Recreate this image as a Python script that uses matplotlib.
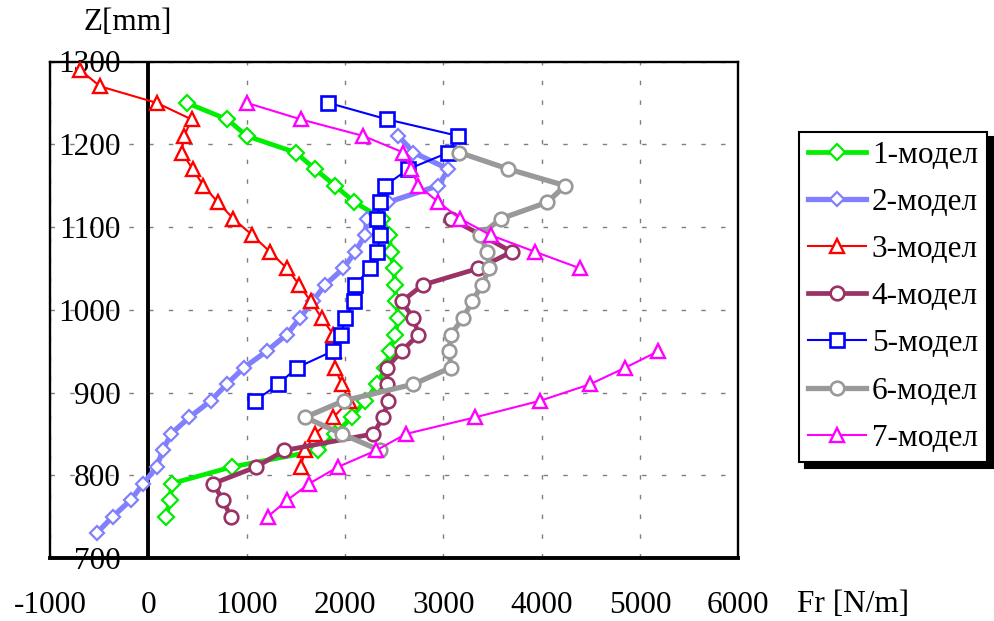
import numpy as np
import matplotlib
matplotlib.use("Agg")
import matplotlib.pyplot as plt

# ---------------- data ----------------
z1 = list(range(1250, 749, -20))
fr1 = [390, 804, 1001, 1499, 1696, 1899, 2096, 2380, 2452, 2466, 2494, 2510, 2520,
       2543, 2510, 2459, 2410, 2330, 2204, 2069, 1900, 1729, 848, 238, 221, 180]

z2 = list(range(1210, 729, -20))
fr2 = [2544, 2696, 3052, 2950, 2440, 2222, 2204, 2103, 1984, 1798, 1670, 1543, 1408,
       1204, 973, 797, 635, 417, 231, 146, 85, -51, -179, -362, -525]

z3 = list(range(1290, 809, -20))
fr3 = [-695, -491, 85, 441, 363, 340, 451, 560, 706, 865, 1058, 1238, 1408, 1536,
       1652, 1764, 1880, 1890, 1899, 1967, 2040, 1883, 1696, 1594, 1550]

z4 = list(range(1110, 749, -20))
fr4 = [3076, 3390, 3697, 3357, 2791, 2577, 2696, 2747, 2577, 2425, 2432, 2442, 2385,
       2289, 1384, 1096, 661, 757, 838]

z5 = list(range(1250, 889, -20))
fr5 = [1831, 2431, 3154, 3052, 2645, 2408, 2357, 2323, 2357, 2330, 2255, 2103, 2093,
       2001, 1960, 1876, 1510, 1323, 1085]

z6 = list(range(1190, 829, -20))
fr6 = [3164, 3662, 4239, 4059, 3585, 3374, 3449, 3469, 3392, 3295, 3200, 3076, 3062,
       3076, 2696, 1988, 1594, 1967, 2357]

z7 = list(range(1250, 749, -20))
fr7 = [1001, 1553, 2187, 2594, 2672, 2747, 2950, 3171, 3483, 3934, 4392,
       np.nan, np.nan, np.nan, np.nan,
       5188, 4850, 4493, 3985, 3324, 2622, 2316, 1928, 1638, 1414, 1215]

labels = ["1-модел", "2-модел", "3-модел", "4-модел", "5-модел", "6-модел", "7-модел"]
xticks = [-1000, 0, 1000, 2000, 3000, 4000, 5000, 6000]
yticks = [700, 800, 900, 1000, 1100, 1200, 1300]

# ---------------- style ----------------
FONT = "Liberation Serif"
FS = 22.5
plt.rcParams["font.family"] = [FONT, "DejaVu Serif"]

series = [
    (fr1, z1, dict(color="#00ee00", lw=3.4, marker="D", ms=7.8, mew=1.6)),
    (fr2, z2, dict(color="#8080ff", lw=3.8, marker="D", ms=7.0, mew=1.6)),
    (fr3, z3, dict(color="#ff0000", lw=1.5, marker="^", ms=10.5, mew=1.7)),
    (fr4, z4, dict(color="#993366", lw=3.4, marker="o", ms=9.8, mew=1.9)),
    (fr5, z5, dict(color="#0000ff", lw=1.5, marker="s", ms=9.4, mew=1.9)),
    (fr6, z6, dict(color="#999999", lw=3.8, marker="o", ms=9.8, mew=1.9)),
    (fr7, z7, dict(color="#ff00ff", lw=1.5, marker="^", ms=10.5, mew=1.7)),
]

W, H = 995, 621
fig = plt.figure(figsize=(W / 100, H / 100), dpi=100)
ax = fig.add_axes([50 / W, (H - 558) / H, 688.3 / W, 496.5 / H])

ax.set_xlim(-1000, 6000)
ax.set_ylim(700, 1300)
ax.set_xticks(xticks)
ax.set_yticks(yticks)
ax.set_xticklabels([str(v) for v in xticks], fontsize=FS)
ax.set_yticklabels([str(v) for v in yticks], fontsize=FS)
ax.tick_params(axis="both", length=0)
ax.tick_params(axis="x", pad=24)
ax.tick_params(axis="y", pad=-51)

ax.grid(True, color="#7f7f7f", lw=1.0, linestyle=(0, (3.2, 11)))
ax.set_axisbelow(True)

for s in ["left", "top", "right"]:
    ax.spines[s].set_linewidth(1.7)
ax.spines["bottom"].set_linewidth(2.8)
ax.axvline(0, color="black", lw=2.8, zorder=1.5)

handles = []
for (x, y, st), lab in zip(series, labels):
    h, = ax.plot(x, y, color=st["color"], lw=st["lw"], marker=st["marker"],
                 ms=st["ms"], mew=st["mew"], mfc="white", mec=st["color"],
                 label=lab, zorder=3, clip_on=False)
    handles.append(h)

leg = fig.legend(handles=handles, labels=labels, loc="upper left",
                 bbox_to_anchor=(799 / W, 1 - 131.5 / H),
                 bbox_transform=fig.transFigure,
                 fontsize=FS, frameon=True, fancybox=False,
                 shadow={"color": "black", "alpha": 1, "ox": 4, "oy": -4},
                 handlelength=1.85, handletextpad=0.18, labelspacing=0.58,
                 borderpad=0.3, borderaxespad=0)
leg.get_frame().set_edgecolor("black")
leg.get_frame().set_linewidth(1.5)
leg.get_frame().set_alpha(1)

fig.text(128 / W, 1 - 23 / H, "Z[mm]", fontsize=FS, ha="center", va="center")
fig.text(797 / W, 1 - 605 / H, "Fr [N/m]", fontsize=FS, ha="left", va="center")

fig.savefig("out.png", dpi=100)
